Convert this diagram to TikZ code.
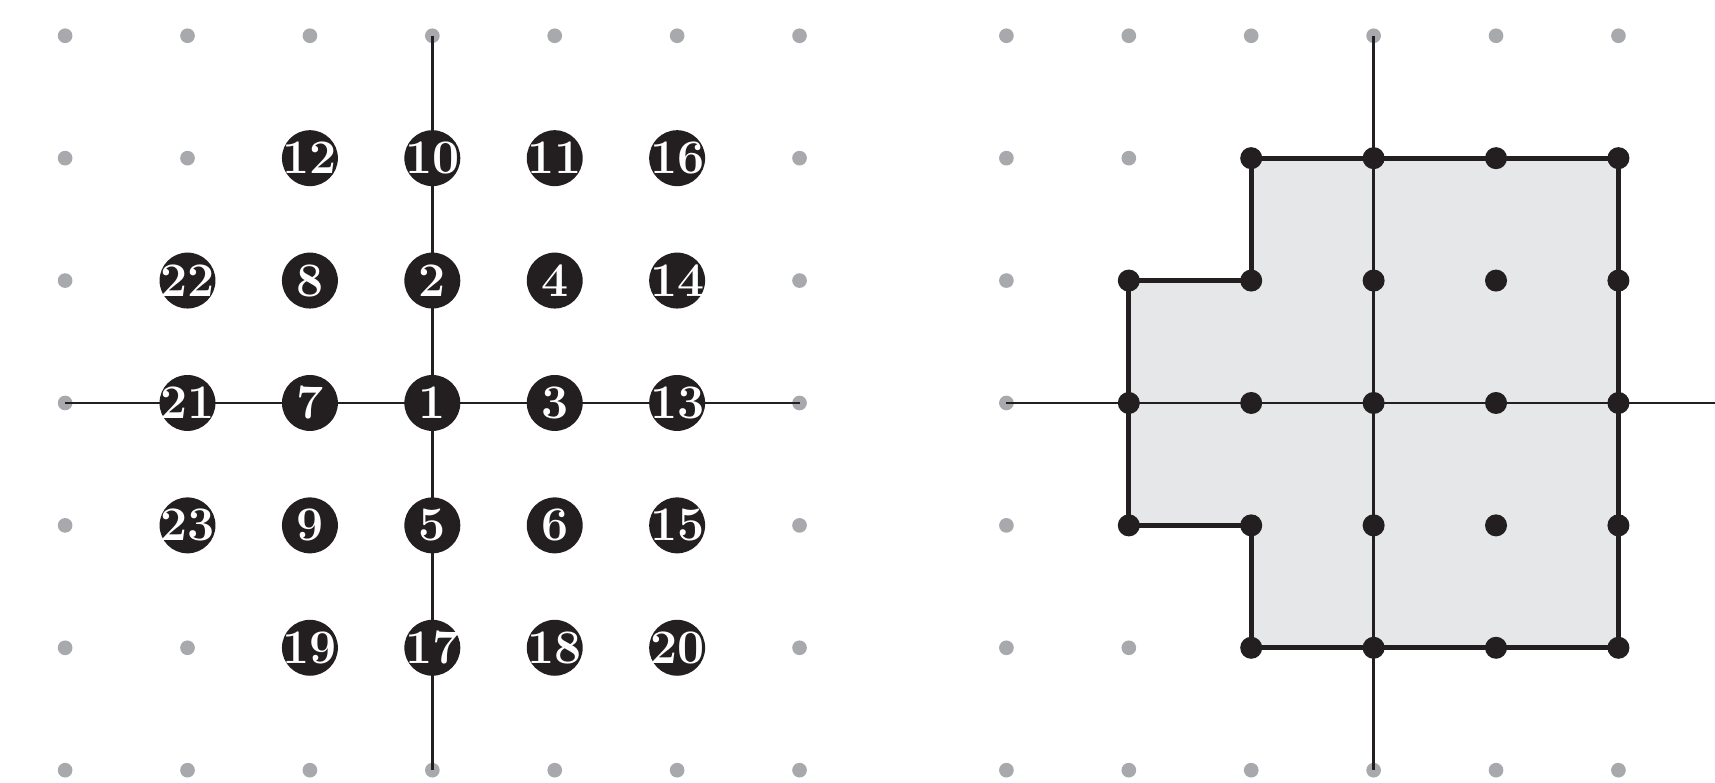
\documentclass[tikz,border=0pt]{standalone}
\definecolor{ink}{HTML}{231F20}
\definecolor{dotgray}{HTML}{A7A9AC}
\definecolor{regionfill}{HTML}{E6E7E8}
\tikzset{
  griddot/.style={circle,fill=dotgray,inner sep=0pt,minimum size=0.12cm},
  numdot/.style={circle,fill=ink,text=white,inner sep=0pt,minimum size=0.457cm,
    font=\fontsize{11.2}{11.2}\selectfont\bfseries},
  vertex/.style={circle,fill=ink,inner sep=0pt,minimum size=0.18cm},
  axis/.style={draw=ink,line width=0.6pt},
  boundary/.style={draw=ink,line width=1.1pt,line join=miter},
  region/.style={fill=regionfill},
}
% lattice points belonging to the cross-shaped set
\newcommand{\inset}[2]{\pgfmathtruncatemacro\occ{((#1>=-1)&&(#1<=2)&&(abs(#2)<=2))||((#1==-2)&&(abs(#2)<=1))}}
% zero-width label so every disc keeps the same size
\newcommand{\numlabel}[1]{\makebox[0pt][c]{#1}}
\begin{document}
\begin{tikzpicture}
\useasboundingbox (-3.532,-3.097) rectangle (10.479,3.292);

% ---------- left panel: numbered lattice points ----------
\foreach \x in {-3,...,3}{
  \foreach \y in {-3,...,3}{
    \inset{\x}{\y}
    \ifnum\occ=0 \node[griddot] (gl\x\y) at (\x,\y) {};\fi
  }
}
\coordinate (la-top) at (0,3);
\coordinate (la-bot) at (0,-3);
\coordinate (la-left) at (-3,0);
\coordinate (la-right) at (3,0);
\draw[axis] (la-top) -- (la-bot);
\draw[axis] (la-left) -- (la-right);
\foreach \n/\x/\y in {1/0/0, 2/0/1, 3/1/0, 4/1/1, 5/0/-1, 6/1/-1, 7/-1/0, 8/-1/1,
  9/-1/-1, 10/0/2, 11/1/2, 12/-1/2, 13/2/0, 14/2/1, 15/2/-1, 16/2/2, 17/0/-2,
  18/1/-2, 19/-1/-2, 20/2/-2, 21/-2/0, 22/-2/1, 23/-2/-1}
  \node[numdot] (n\n) at (\x,\y) {\numlabel{\n}};

% ---------- right panel: the region as a polygon ----------
\begin{scope}[xshift=7.69cm]
  \coordinate (p1) at (-1,2);
  \coordinate (p2) at (2,2);
  \coordinate (p3) at (2,-2);
  \coordinate (p4) at (-1,-2);
  \coordinate (p5) at (-1,-1);
  \coordinate (p6) at (-2,-1);
  \coordinate (p7) at (-2,1);
  \coordinate (p8) at (-1,1);
  \fill[region] (p1) -- (p2) -- (p3) -- (p4) -- (p5) -- (p6) -- (p7) -- (p8) -- cycle;
  \foreach \x in {-3,...,2}{
    \foreach \y in {-3,...,3}{
      \inset{\x}{\y}
      \ifnum\occ=0 \node[griddot] (gr\x\y) at (\x,\y) {};\fi
    }
  }
  \coordinate (ra-top) at (0,3);
  \coordinate (ra-bot) at (0,-3);
  \coordinate (ra-left) at (-3,0);
  \coordinate (ra-right) at (2.789,0);
  \draw[axis] (ra-top) -- (ra-bot);
  \draw[axis] (ra-left) -- (ra-right);
  \draw[boundary] (p1) -- (p2) -- (p3) -- (p4) -- (p5) -- (p6) -- (p7) -- (p8) -- cycle;
  \foreach \x in {-2,...,2}{
    \foreach \y in {-2,...,2}{
      \inset{\x}{\y}
      \ifnum\occ=1 \node[vertex] (v\x\y) at (\x,\y) {};\fi
    }
  }
\end{scope}
\end{tikzpicture}
\end{document}
